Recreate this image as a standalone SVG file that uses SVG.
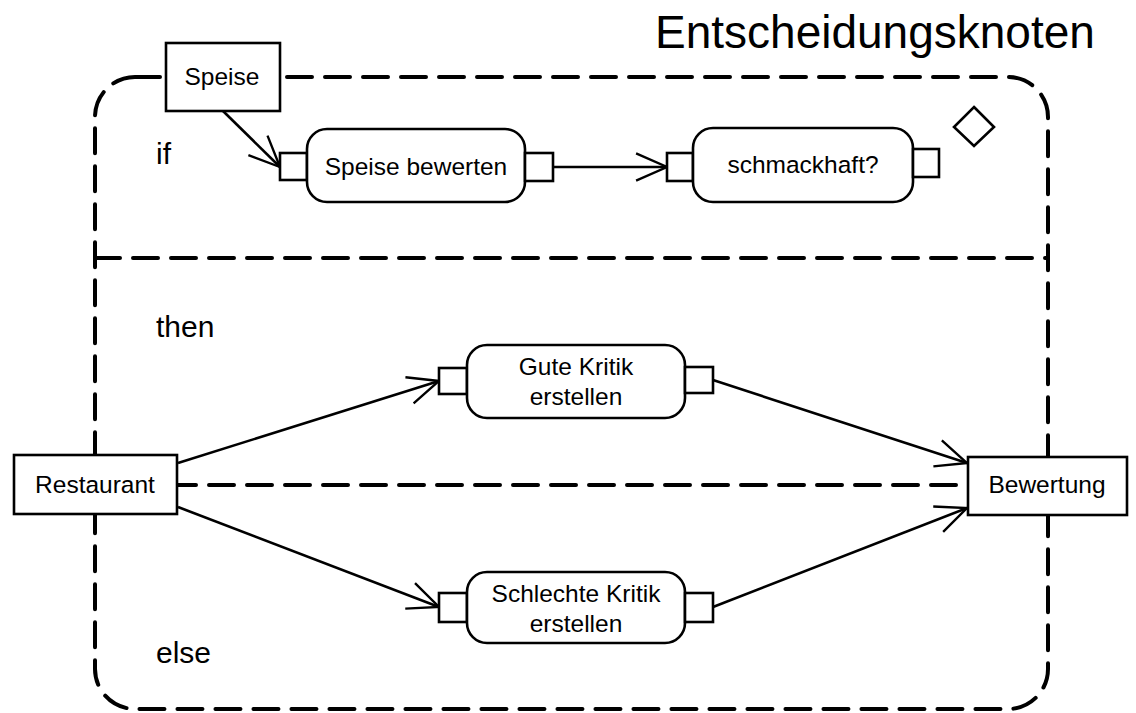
<svg xmlns="http://www.w3.org/2000/svg" width="1136" height="713" viewBox="0 0 1136 713">
  <style>
    .frame { fill: none; stroke: #000; stroke-width: 4; stroke-dasharray: 25 13; stroke-linecap: round; }
    .box { fill: #fff; stroke: #000; stroke-width: 2.6; }
    .flow { fill: none; stroke: #000; stroke-width: 2.6; marker-end: url(#open); }
    .lbl { font-family: "Liberation Sans", Arial, sans-serif; font-size: 24.5px; fill: #000; text-anchor: middle; }
    .sec { font-family: "Liberation Sans", Arial, sans-serif; font-size: 30px; fill: #000; }
  </style>
  <defs>
    <marker id="open" markerUnits="userSpaceOnUse" markerWidth="40" markerHeight="40" viewBox="-40 -20 44 40" refX="0" refY="0" orient="auto" overflow="visible">
      <path d="M-34,-15 L0,0 L-34,15" fill="none" stroke="#000" stroke-width="2.6"/>
    </marker>
  </defs>

  <rect width="1136" height="713" fill="#fff"/>

  <!-- title -->
  <text x="655" y="48" font-family="Liberation Sans, Arial, sans-serif" font-size="46">Entscheidungsknoten</text>

  <!-- conditional node frame with its clause dividers -->
  <g id="frame">
    <rect class="frame" x="95" y="77" width="953" height="632" rx="40" ry="40"/>
    <line class="frame" x1="95" y1="258" x2="1048" y2="258"/>
    <line class="frame" x1="95" y1="485" x2="1048" y2="485"/>
    <polygon points="974,107 994,127 974,146 954,127" fill="#fff" stroke="#000" stroke-width="2.6"/>
    <text class="sec" x="156" y="164">if</text>
    <text class="sec" x="156" y="337">then</text>
    <text class="sec" x="156" y="663">else</text>
  </g>

  <!-- connectors -->
  <g id="connectors">
    <line class="flow" x1="223" y1="111" x2="280" y2="167"/>
    <line class="flow" x1="553" y1="167" x2="667" y2="167"/>
    <line class="flow" x1="178" y1="463" x2="439" y2="381"/>
    <line class="flow" x1="178" y1="507" x2="439" y2="607"/>
    <line class="flow" x1="713" y1="380" x2="967" y2="463"/>
    <line class="flow" x1="713" y1="607" x2="967" y2="508"/>
  </g>

  <g id="speise">
    <rect class="box" x="166" y="43" width="114" height="68"/>
    <text class="lbl" x="222" y="85">Speise</text>
  </g>

  <g id="speise-bewerten">
    <rect class="box" x="280" y="153" width="27" height="27"/>
    <rect class="box" x="307" y="129" width="218" height="73" rx="20" ry="20"/>
    <rect class="box" x="525" y="153" width="28" height="28"/>
    <text class="lbl" x="416" y="175">Speise bewerten</text>
  </g>

  <g id="schmackhaft">
    <rect class="box" x="667" y="153" width="26" height="28"/>
    <rect class="box" x="693" y="128" width="220" height="74" rx="20" ry="20"/>
    <rect class="box" x="913" y="149" width="26" height="28"/>
    <text class="lbl" x="803" y="173">schmackhaft?</text>
  </g>

  <g id="gute-kritik">
    <rect class="box" x="439" y="368" width="28" height="26"/>
    <rect class="box" x="467" y="345" width="218" height="73" rx="20" ry="20"/>
    <rect class="box" x="685" y="367" width="28" height="26"/>
    <text class="lbl" x="576" y="375">Gute Kritik</text>
    <text class="lbl" x="576" y="405">erstellen</text>
  </g>

  <g id="schlechte-kritik">
    <rect class="box" x="439" y="593" width="28" height="29"/>
    <rect class="box" x="467" y="572" width="218" height="71" rx="20" ry="20"/>
    <rect class="box" x="685" y="593" width="28" height="29"/>
    <text class="lbl" x="576" y="602">Schlechte Kritik</text>
    <text class="lbl" x="576" y="632">erstellen</text>
  </g>

  <g id="restaurant">
    <rect class="box" x="14" y="455" width="163" height="59"/>
    <text class="lbl" x="95" y="493">Restaurant</text>
  </g>

  <g id="bewertung">
    <rect class="box" x="968" y="457" width="159" height="58"/>
    <text class="lbl" x="1047" y="493">Bewertung</text>
  </g>
</svg>
